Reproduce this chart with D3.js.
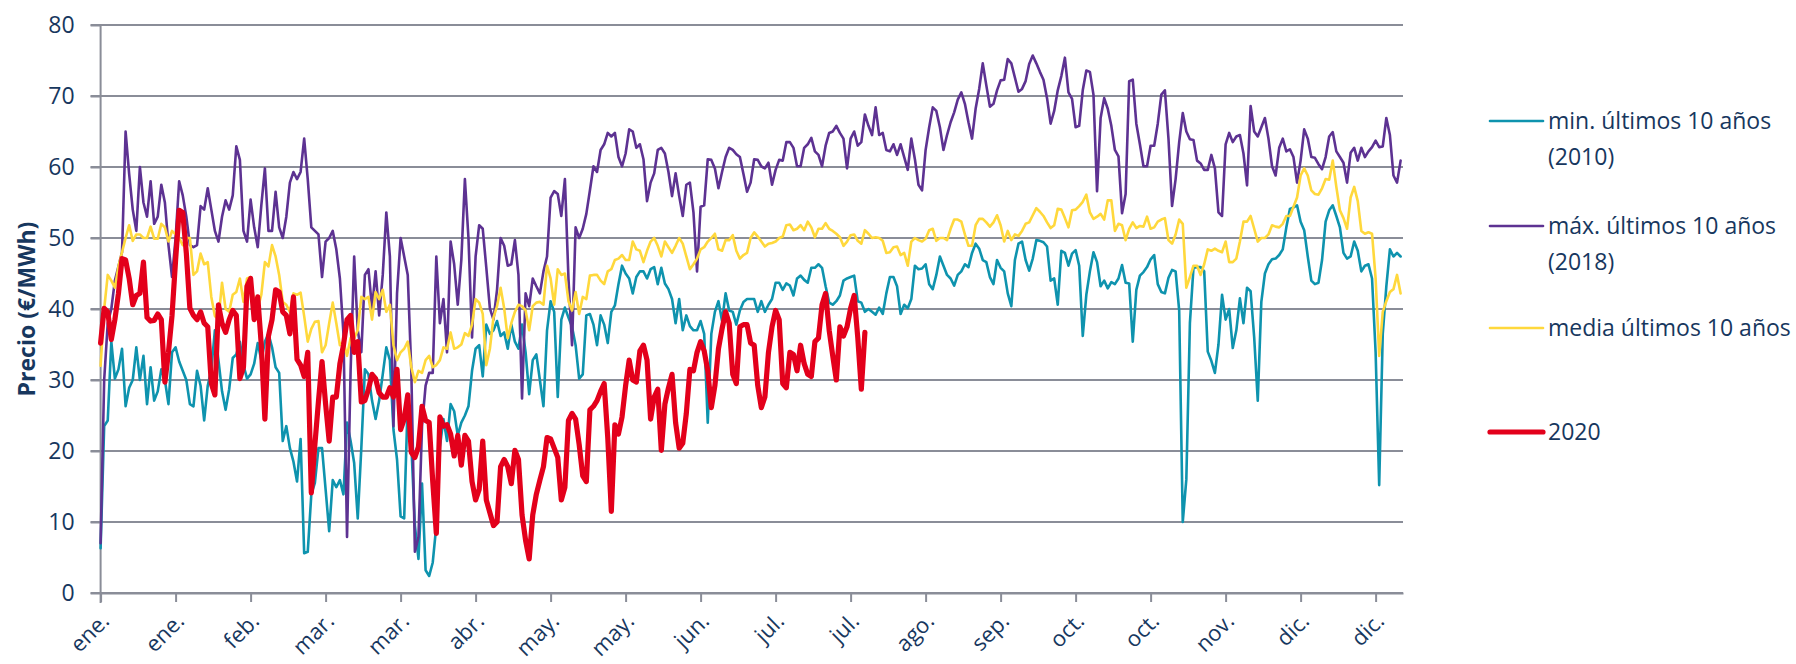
<!DOCTYPE html>
<html lang="es">
<head>
    <meta charset="UTF-8">
    <title>Precio mercado diario</title>
    <style>
        body { margin: 0; background: #fff; }
        svg text { font-family: "Open Sans", "Noto Sans", sans-serif; fill: #17375E; }
    </style>
</head>
<body>
    <svg id="svg"></svg>
<script src="https://d3js.org/d3.v7.min.js"></script>
<script>
    // categorías: un punto por día en un eje de fechas de 365 días
    const inicio = new Date(Date.UTC(2019, 0, 1));
    const fin = new Date(Date.UTC(2020, 0, 1));
    const dias = d3.utcDays(inicio, fin);

    // etiquetas del eje X (una marca cada 21 días)
    const etiquetasX = ["ene.", "ene.", "feb.", "mar.", "mar.", "abr.", "may.", "may.", "jun.",
        "jul.", "jul.", "ago.", "sep.", "oct.", "oct.", "nov.", "dic.", "dic."];
    const pasoX = 21;
    const ticksY = [0, 10, 20, 30, 40, 50, 60, 70, 80];

    // min. últimos 10 años (2010)
    const serieMin = [
        6.3,23.5,24.3,35.4,30.2,31.5,34.4,26.3,28.9,30, 34.6,30,33.4,26.6,31.8,27.1,28.4,31.5,30,26.6,
        33.9,34.6,32.6,31.3,30,26.6,26.3,31.3,29.2,24.3, 29.2,31.5,37,32.8,28.4,25.8,28.7,33.1,33.6,35.4,
        32.1,30.2,30.8,32.3,35.2,32.8,35.4,36.5,34.6,31.8, 31,21.4,23.5,20.4,18.5,15.7,21.7,5.6,5.8,13.9,
        15.5,20.4,20.4,14.6,8.7,15.9,14.9,15.9,13.9,24, 21.4,18.3,10.5,20.4,31.5,30.8,27.1,24.5,27.1,30.8,
        34.6,32.8,23,18.8,10.8,10.5,27.1,20.9,9.5,4.8, 15.4,3.2,2.4,4.3,9.5,20.6,24.5,21.4,26.6,25.6,
        22.2,24,25,26.3,31.3,34.4,34.9,30.5,37.8,36.5, 37,38.3,36.2,36.7,34.4,37.8,35.4,34.4,37.8,33.9,
        28,32.8,33.6,30,26.3,37,41.1,39.6,27.6,38.5, 40.2,38.8,37.5,34.9,30.2,30.8,39.1,39.3,37.8,34.9,
        39.1,37.8,35.2,39.6,40.5,43.5,46.1,45,44.3,42.2, 44.5,45.3,45.3,44.3,45.6,45.9,43.5,45.8,43.6,42.8,
        41.4,38,41.4,37,39.1,37.6,37,37,38.3,36.5, 24,36.5,39.6,41.1,38.3,42.2,39.8,39.6,37.8,39.8,
        41,41.4,41.4,41.4,39.6,41.1,39.6,40.6,41.4,43.7, 43.7,42.7,43.6,43.3,41.9,44.3,44.7,44.1,43.7,45.8,
        45.8,46.3,45.8,43.2,40.9,40.6,41.1,41.9,44,44.3, 44.5,44.7,41.1,40.9,39.6,40,39.6,39.2,40.2,39.3,
        42.2,44.5,44.5,43.2,39.3,40.6,40.1,41.4,46.1,45.6, 45.7,46.3,43.5,42.8,44.8,47.4,46.1,44.8,44.3,43.3,
        44.8,45.3,46.3,45.9,47.9,49.2,48.5,46.9,46.6,44.5, 43.5,46.9,45.8,45.3,42.2,40.4,46.9,49.2,49.5,46.9,
        45.4,47.1,49.7,49.6,49.4,48.8,44,44.3,40.6,48.2, 47.9,46.1,47.8,48.3,46.1,36.2,42,45.3,48,46.6,
        43.2,44,42.9,43.8,43.5,44.3,46.2,43.7,43.6,35.4, 42.7,44.7,45.2,45.9,47,47.6,43.5,42.4,42.2,44.4,
        45.5,45.3,39.8,10,16,38,45.8,45.9,45.9,45.3, 34,32.7,31,35,42,38.5,40,34.5,37,41.5,
        38,43,42.5,36,27.1,41,45,46.3,47,47.1, 47.6,48.4,51.5,54.1,54.3,54.6,52.3,51.1,47.4,44,
        43.5,43.7,46.9,52.3,53.9,54.6,53.1,51.5,47.9,47.1, 47.4,49.5,48.2,45.3,46.1,46.3,44.3,33.9,15.2,36.5,
        43.2,48.4,47.4,47.9,47.4
    ];

    // máx. últimos 10 años (2018)
    const serieMax = [
        7,30,38,40,44,46,48,65,59,54, 51,60,55,53,58,52,53,57.5,55,49,
        44.5,50,58,56,53,49,48.7,49,54.5,54, 57,54,51,49.5,53,55.3,54,56,62.9,61,
        51,49.5,55.4,51.5,48.7,54.6,59.8,51,51,56.5, 51.5,50,53,57.8,59.3,58.3,59.3,64,58.3,51.5,
        51,50.5,44.5,49.5,50,51,48.4,44.3,36.5,7.9, 31.3,47.4,37,33.9,44.8,45.6,40.1,45.3,39.1,44.8,
        53.6,47.4,23.5,42.2,50,47.4,44.8,31.3,5.8,7.9, 23.5,29.2,31,31,47.4,38,41.4,33.9,49.5,46.3,
        40.6,46.9,58.3,50,36,47.4,51.8,51.3,45.8,40.1, 38.5,42.7,50,48.9,46.1,46.3,49.7,44.8,27.4,42.2,
        40.4,44.3,43.2,42.2,45.3,47.4,55.7,56.6,56.2,53.1, 58.3,44.3,34.9,51.5,50,51.3,53.4,56.7,60.1,59.3,
        62.4,63.2,64.8,64.3,64.8,61.4,60.1,61.9,65.3,65, 62.7,63.2,61.1,55.2,57.8,59.1,62.4,62.7,61.9,59.3,
        55.9,59.1,55.9,53.1,57.5,57.8,53.6,45.3,54.4,54.6, 61.1,61,59.8,57,59.3,61.4,62.7,62.4,61.8,61.4,
        59,56.5,57.8,61.1,61,60.1,59.8,60.6,57.5,59.6, 61,60.9,63.5,63.5,62.7,60.1,60.1,62.7,63.2,64.1,
        62.2,61.7,60.1,63,64.8,65,65.8,64.8,64,59.8, 64,65,63,63.5,67.4,65.8,64.5,68.4,64.5,64.8,
        62.4,62.2,63.2,61.7,63.2,61.4,59.6,64,61.1,57.5, 56.7,62.4,65.6,68.4,67.9,65.6,62.4,64.5,66.3,67.7,
        69.5,70.5,68.9,66.3,64,68.2,71,74.6,71.5,68.5, 68.9,70.8,72.2,72.3,75.2,74.6,72.6,70.6,71,72.1,
        74.5,75.7,74.6,73.4,72.3,69.7,66.1,67.9,70.8,72.8, 75.4,70.5,69.6,65.6,65.8,70.8,73.6,73.4,70.2,56.6,
        66.9,69.7,68.2,65.8,62.4,61.5,53.5,56.2,72.1,72.3, 66.1,63.2,60.1,60.1,63,63,66.1,70.2,70.8,64,
        54.5,58.3,63.5,67.6,65,63.9,63.8,60.9,60.5,59.6, 59.6,61.7,59.8,53.6,53.1,63.2,64.8,63.5,64.3,64.5,
        61.9,57.4,68.6,65,64.3,65.6,66.9,64,60.1,58.8, 62.7,64,62.2,62.5,61.4,57.8,60.9,65.3,64,61.4,
        61.3,60.4,59.7,61.4,64.3,64.9,62.2,61.4,60.6,57.8, 62,62.7,60.9,62.7,61.4,62.2,62.8,63.7,62.8,62.9,
        66.9,64.5,58.8,57.8,60.9
    ];

    // media últimos 10 años
    const serieMedia = [
        32,40,44.8,44,43,46,48,50,51.8,49.6, 50.5,50.5,50,50,51.6,49.9,49.9,52,51.5,49.5,
        51,50.5,50,49,50,50,44.8,45.3,47.8,46.3, 46.6,41.7,39,38.5,43.7,40,39.6,42,42.4,44.3,
        41,44.3,44.5,41,40,42,46.6,46,49,47.4, 44.8,41,40.6,39.6,42.2,42,42.3,39,35.4,37.2,
        38.2,38.3,33.9,34.9,38,40.9,38,34.9,35.4,33.4, 35.9,35.9,37,41.7,41.4,41.7,38.5,42.4,41.4,42.7,
        39.6,40.6,34.9,32.8,33.9,34.4,35.4,31.8,29.7,31.3, 31,32.8,33.4,31.8,32.1,32.8,34.6,34.4,36.7,34.4,
        34.6,35,36.6,36.2,37.8,41.4,40.9,39.3,32.1,34.4, 38.8,40.4,43,40.1,35.9,38,39.6,40.6,40.4,39.8,
        37,40.4,40.9,41,40.6,46.1,44.3,40.6,45.6,44.8, 45,41.1,39.8,42.4,39.3,41.7,41.4,44.7,44.8,44.8,
        44,43.5,45.3,45.6,46.9,47.1,47.6,46.9,46.9,49.5, 48.4,48.2,46.6,48.2,49.5,50,48.9,47.4,49.5,48.7,
        47.9,48.9,50,49.2,47.4,45.6,46.3,47.1,48.4,48.7, 49.5,50,50.6,48.4,48.2,49.7,49.7,50.4,48.2,47.1,
        47.6,47.9,50,50.8,50.2,49.5,48.8,49.2,49.3,49.5, 50,50.2,51.8,51.9,51.1,51.3,51.8,51.1,52.3,51.5,
        50.1,51.3,51.3,52.1,51.3,51,50.6,50.1,48.9,49.5, 50.4,50.5,49.6,49.2,51.1,50.6,50,50.1,50,49.6,
        47.9,48,48.7,48.8,47.6,47.9,46.1,49.5,50,49.7, 49.5,49.9,51.1,51.3,49.6,50,50,49.7,51.3,52.6,
        52.6,52.3,50.5,48.9,48.9,51.8,52.7,52.7,52.2,51.6, 52.2,53.2,51.8,49.5,51,49.7,50.5,50.3,51,52,
        52.2,53.2,54.2,53.7,53.1,52.2,51.4,51.8,54.1,54, 52.8,51.5,53.9,54,54.5,55.1,56.1,53.6,52.7,53,
        53.4,52.6,55.3,55.3,51,52,51.8,49.7,51.3,52.2, 51.4,51.7,51.6,53,51.3,51.5,52.3,52.6,52.8,49.7,
        49.2,50.5,52.6,52,43,44.5,46.1,46.1,44.8,46.3, 48.4,48.2,48.5,48.2,48,49.5,46.6,46.6,47.1,49.5,
        52.3,52.3,53.1,51.3,49.5,50,50,50.5,51.8,51.6, 51.5,52,53.1,53.1,54.4,55.7,58.8,59.8,58.8,56.7,
        56.2,56.1,57,58.3,58.2,60.9,57.2,53.9,52.8,51.3, 55.7,57.2,55.2,51,50.6,50.8,50.6,44.3,33.4,39.6,
        41.1,42.4,42.8,44.8,42.2
    ];

    // 2020 (hasta principios de agosto)
    const serie2020 = [
        35.2,40.1,39.6,35.7,38.5,42.2,47.1,46.9,44.3,40.6, 41.9,42.2,46.6,38.8,38.3,38.4,39.3,38.5,29.7,33.9,
        39.1,46.9,53.9,53.6,47.9,40.1,39.1,38.5,39.6,38, 37.5,29.5,27.9,40.6,38,36.7,38.5,39.8,39.1,30.2,
        31.8,43.2,44.3,38.5,41.7,34.9,24.5,36.2,38.5,42.7, 42.4,39.6,39.1,36.5,41.7,32.9,32.1,30.5,33.9,14.1,
        20.9,27,32.6,26.6,21.4,27.6,27.6,32.3,34.9,38.5, 39.1,33.9,35.4,26.9,27.1,28.7,30.8,30.2,28.2,27.6,
        27.6,28.9,27.6,31.5,23,24.5,27.9,19.8,19.1,20.6, 26.3,24.3,24,15.7,8.4,24.8,23.5,23.7,22.4,19.3,
        22.2,18,22.2,21.4,15.7,13.1,14.6,21.4,13.1,11.3, 9.5,10,17.8,18.8,17.8,15.4,20.1,18.8,11,7.4,
        4.8,11,13.9,15.9,17.8,21.9,21.7,20.4,19.1,13.1, 14.9,24.3,25.3,24.5,20.9,16.5,15.7,25.8,26.3,27.1,
        28.4,29.5,21.9,11.5,23.7,22.4,24.8,29.2,32.8,30, 29.7,34.1,34.9,32.8,24.5,27.6,28.7,20.1,26.6,28.9,
        30.8,24,20.4,21.1,25.3,31.5,31.3,33.9,35.4,34.1, 31.3,26.1,29.2,34.4,37.2,39.6,38,30.8,29.5,37.5,
        37.8,37.8,35.2,34.9,29.2,26.1,27.6,33.9,37.5,39.8, 38.5,29.5,28.9,33.9,33.6,31.3,34.9,32.3,30.8,30.5,
        35.4,35.9,40.6,42.2,37,33.4,30,37.5,36.2,37.5, 40.1,41.9,36,28.7,36.7
    ];

    const series = [
        { nombre: ["min. últimos 10 años", "(2010)"], valores: serieMin, color: "#0E93AE", ancho: 2.6 },
        { nombre: ["máx. últimos 10 años", "(2018)"], valores: serieMax, color: "#5D3292", ancho: 2.6 },
        { nombre: ["media últimos 10 años"], valores: serieMedia, color: "#FFD83C", ancho: 2.6 },
        { nombre: ["2020"], valores: serie2020, color: "#E3001B", ancho: 5.2 }
    ];

    class GraficoPrecio {
        constructor() {
            this.width = 1796;
            this.height = 664;
            this.margin = { top: 25, left: 100.6, bottom: 71, right: 393 };
            this.innerRight = this.width - this.margin.right;
            this.innerBottom = this.height - this.margin.bottom;
            this.gris = "#8A8D98";

            const svg = d3.select("#svg")
                .attr("width", this.width)
                .attr("height", this.height)
                .attr("viewBox", `0 0 ${this.width} ${this.height}`);
            this.svg = svg;

            // escalas
            this.x = d3.scaleUtc()
                .domain([inicio, d3.utcHour.offset(fin, -8)])
                .range([this.margin.left, this.innerRight]);
            this.y = d3.scaleLinear()
                .domain([0, 80])
                .range([this.innerBottom, this.margin.top]);
        }

        init() {
            this.drawGrid();
            this.drawAxes();
            this.drawSeries();
            this.drawLegend();
        }

        drawGrid() {
            this.svg.append("g").attr("class", "grid")
                .selectAll("line")
                .data(ticksY)
                .join("line")
                .attr("x1", this.margin.left - 10)
                .attr("x2", this.innerRight)
                .attr("y1", d => this.y(d))
                .attr("y2", d => this.y(d))
                .attr("stroke", this.gris)
                .attr("stroke-width", 2);
        }

        drawAxes() {
            const ticksX = d3.range(0, dias.length, pasoX).map(i => dias[i]);

            const ejeY = this.svg.append("g")
                .attr("transform", `translate(${this.margin.left},0)`)
                .call(d3.axisLeft(this.y).tickValues(ticksY).tickSize(10).tickPadding(16));
            ejeY.select(".domain").attr("stroke", this.gris).attr("stroke-width", 2)
                .attr("d", `M0,${this.margin.top}V${this.innerBottom + 10}`);
            ejeY.selectAll(".tick line").attr("stroke", this.gris).attr("stroke-width", 2);
            ejeY.selectAll(".tick text").attr("font-size", 23);

            const ejeX = this.svg.append("g")
                .attr("transform", `translate(0,${this.innerBottom})`)
                .call(d3.axisBottom(this.x).tickValues(ticksX).tickSize(9)
                    .tickSizeOuter(0).tickFormat((d, i) => etiquetasX[i]));
            ejeX.select(".domain").attr("stroke", this.gris).attr("stroke-width", 2);
            ejeX.selectAll(".tick line").attr("stroke", this.gris).attr("stroke-width", 2);
            ejeX.selectAll(".tick text")
                .attr("font-size", 22)
                .attr("text-anchor", "end")
                .attr("y", 0)
                .attr("dy", "0.35em")
                .attr("transform", "translate(4,24) rotate(-45)");

            this.svg.append("text")
                .attr("transform", `translate(27,${(this.margin.top + this.innerBottom) / 2}) rotate(-90)`)
                .attr("text-anchor", "middle")
                .attr("dy", "0.35em")
                .attr("font-size", 23)
                .attr("font-weight", "bold")
                .text("Precio (€/MWh)");
        }

        drawSeries() {
            const linea = d3.line()
                .x((d, i) => this.x(dias[i]))
                .y(d => this.y(d));

            this.svg.append("g").attr("class", "series")
                .selectAll("path")
                .data(series)
                .join("path")
                .attr("d", s => linea(s.valores))
                .attr("fill", "none")
                .attr("stroke", s => s.color)
                .attr("stroke-width", s => s.ancho)
                .attr("stroke-linejoin", "round")
                .attr("stroke-linecap", "round");
        }

        drawLegend() {
            const filas = [121, 226, 328, 432];
            const leyenda = this.svg.append("g").attr("class", "leyenda")
                .selectAll("g")
                .data(series)
                .join("g")
                .attr("transform", (s, i) => `translate(1490,${filas[i]})`);

            leyenda.append("line")
                .attr("x1", 0).attr("x2", 53)
                .attr("stroke", s => s.color)
                .attr("stroke-width", s => s.ancho)
                .attr("stroke-linecap", "round");

            leyenda.append("text")
                .attr("x", 58)
                .attr("font-size", 23)
                .selectAll("tspan")
                .data(s => s.nombre)
                .join("tspan")
                .attr("x", 58)
                .attr("y", (d, i) => i * 36)
                .attr("dy", "0.35em")
                .text(d => d);
        }
    }

    const grafico = new GraficoPrecio();
    grafico.init();
</script>
</body>
</html>
